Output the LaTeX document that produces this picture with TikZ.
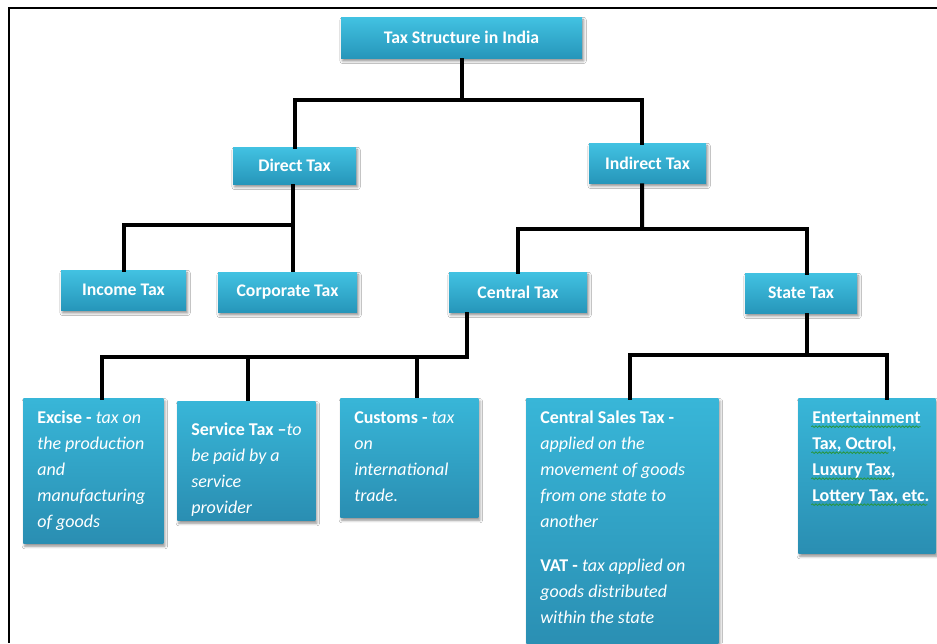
\documentclass[tikz,border=0pt]{standalone}
\usepackage{fontspec}
\setmainfont{Carlito}
\usetikzlibrary{shadows.blur,decorations.pathmorphing}
\definecolor{boxtop}{RGB}{66,194,226}
\definecolor{boxbot}{RGB}{38,150,186}
\definecolor{dtop}{RGB}{56,182,216}
\definecolor{dbot}{RGB}{42,142,178}
\definecolor{spellgreen}{RGB}{40,150,60}
\newcommand\dtext[4]{\parbox[c][#2][t]{#1}{\raggedright\leftskip=10.5pt\relax\rule{0pt}{#3}#4}}
\tikzset{
  shad/.style={blur shadow={shadow xshift=1.2pt, shadow yshift=-2.2pt, shadow blur radius=2pt, shadow opacity=45}},
  hbox/.style={rectangle, top color=boxtop, bottom color=boxbot, draw=none, text=white,
    font=\fontsize{13.3}{16}\selectfont\bfseries, inner sep=0pt, shad},
  dbox/.style={rectangle, top color=dtop, bottom color=dbot, draw=none, text=white,
    font=\fontsize{13.5}{19.5}\selectfont, inner sep=0pt, anchor=north west, shad},
  conn/.style={line width=3pt, black},
  framel/.style={line width=2pt, black},
  squiggle/.style={spellgreen, line width=0.6pt, decorate,
    decoration={snake, segment length=2.6pt, amplitude=0.6pt}}
}
\begin{document}
\begin{tikzpicture}[x=0.75pt, y=-0.75pt]
\useasboundingbox (0,0) rectangle (937,643);
\fill[white] (0,0) rectangle (937,643);
\draw[framel] (937,8) -- (9,8) -- (9,643);

% header boxes
\node[hbox, minimum width=180.75pt, minimum height=30.75pt] (top) at (461.5,37.5) {Tax Structure in India};
\node[hbox, minimum width=92.25pt, minimum height=27.75pt] (direct) at (294.5,165.5) {Direct Tax};
\node[hbox, minimum width=87.75pt, minimum height=30pt] (indirect) at (647.5,163) {Indirect Tax};
\node[hbox, minimum width=93.75pt, minimum height=30pt] (income) at (123.5,290) {Income Tax};
\node[hbox, minimum width=104.25pt, minimum height=30pt] (corporate) at (287.5,292) {Corporate Tax};
\node[hbox, minimum width=103.5pt, minimum height=30pt] (central) at (518,292) {Central Tax};
\node[hbox, minimum width=84pt, minimum height=30pt] (state) at (801,293) {State Tax};

% description boxes
\node[dbox] (excise) at (23,398) {\dtext{105pt}{108.75pt}{18.75pt}{%
  \textbf{Excise -} \textit{tax on}\\ \textit{the production}\\ \textit{and}\\ \textit{manufacturing}\\ \textit{of goods}}};
\node[dbox] (service) at (177,401) {\dtext{103.5pt}{89.25pt}{25.5pt}{%
  \textbf{Service Tax –}\textit{to}\\ \textit{be paid by a}\\ \textit{service}\\ \textit{provider}}};
\node[dbox] (customs) at (340,398) {\dtext{103.5pt}{89.25pt}{18.75pt}{%
  \textbf{Customs -} \textit{tax}\\ \textit{on}\\ \textit{international}\\ \textit{trade.}}};
\node[dbox] (cst) at (526,398) {\dtext{144pt}{190pt}{18.75pt}{%
  \textbf{Central Sales Tax -}\\ \textit{applied on the}\\ \textit{movement of goods}\\ \textit{from one state to}\\ \textit{another}\\[14pt]
  \textbf{VAT -} \textit{tax applied on}\\ \textit{goods distributed}\\ \textit{within the state}}};
\node[dbox] (ent) at (798,398) {\dtext{102.75pt}{116.25pt}{18.75pt}{%
  \textbf{Entertainment}\\ \textbf{Tax, Octrol,}\\ \textbf{Luxury Tax,}\\ \textbf{Lottery Tax, etc.}}};

% spell-check underlines in the entertainment box
\draw[squiggle] ([shift={(10pt,-21.5pt)}]ent.north west) -- ([shift={(92pt,-21.5pt)}]ent.north west);
\draw[squiggle] ([shift={(10pt,-41pt)}]ent.north west) -- ([shift={(68pt,-41pt)}]ent.north west);
\draw[squiggle] ([shift={(10pt,-60.5pt)}]ent.north west) -- ([shift={(70pt,-60.5pt)}]ent.north west);
\draw[squiggle] ([shift={(10pt,-80pt)}]ent.north west) -- ([shift={(97pt,-80pt)}]ent.north west);

% junction coordinates
\coordinate (j1) at (465,100);
\coordinate (j2) at (293,225);
\coordinate (j3) at (642,229);
\coordinate (j4) at (467,357);
\coordinate (j5) at (807,355);

% connectors
\draw[conn] (top.south) -- (top.south |- j1);
\draw[conn, line cap=rect] (direct.north) |- (j1) -| ([xshift=-4pt]indirect.north);

\draw[conn] ([xshift=-1pt]direct.south) -- ([xshift=-1pt]direct.south |- corporate.north);
\draw[conn, line cap=rect] (income.north) |- (j2);

\draw[conn] ([xshift=-4pt]indirect.south) -- (j3);
\draw[conn, line cap=rect] (central.north) |- (j3) -| ([xshift=4.5pt]state.north);

\draw[conn] ([xshift=-38.25pt]central.south) -- (j4);
\draw[conn, line cap=rect] ([xshift=6.75pt]excise.north) |- (j4);
\draw[conn] ([xshift=1.5pt]service.north) -- ([xshift=1.5pt]service.north |- j4);
\draw[conn] ([xshift=6pt]customs.north) -- ([xshift=6pt]customs.north |- j4);

\draw[conn] ([xshift=4.5pt]state.south) -- (j5);
\draw[conn, line cap=rect] ([xshift=6pt]cst.north) |- (j5) -| ([xshift=15.4pt]ent.north);
\end{tikzpicture}
\end{document}
